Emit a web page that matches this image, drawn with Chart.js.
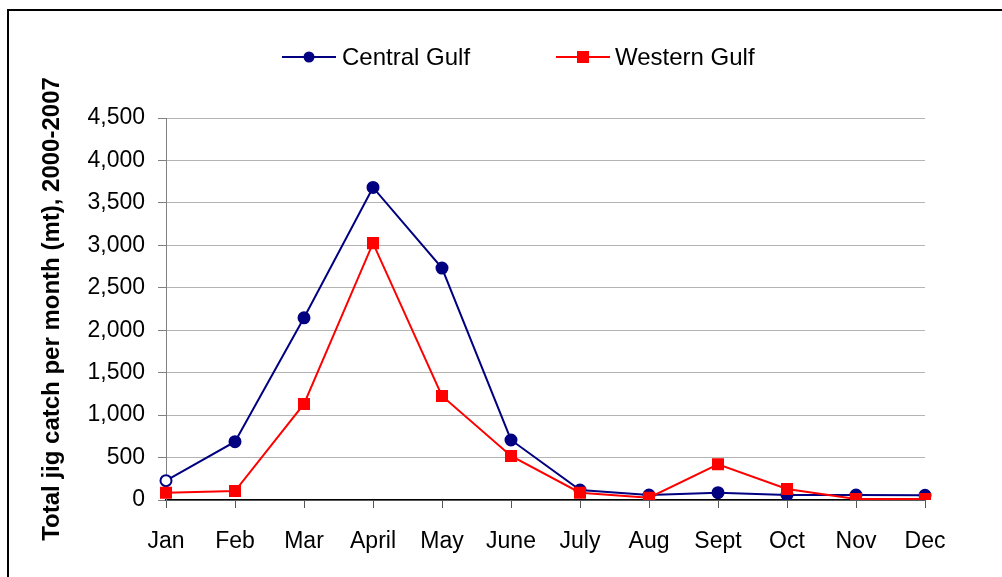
<!DOCTYPE html>
<html>
<head>
<meta charset="utf-8">
<title>Total jig catch per month</title>
<script src="https://cdn.jsdelivr.net/npm/chart.js"></script>
<style>
  body { margin: 0; background: #fff; overflow: hidden; }
  #wrap { position: relative; width: 1002px; height: 577px; }
  #frame { position: absolute; left: 7px; top: 9px; width: 1100px; height: 700px;
           border: 2px solid #000; pointer-events: none; }
</style>
</head>
<body>
<div id="wrap">
  <canvas id="js--chart" width="1002" height="577"></canvas>
  <div id="frame"></div>
</div>
<script>
// data (mt)
const months = ["Jan", "Feb", "Mar", "April", "May", "June", "July", "Aug", "Sept", "Oct", "Nov", "Dec"];
const centralGulf = [228, 687, 2146, 3682, 2732, 707, 118, 59, 86, 59, 59, 55];
const westernGulf = [86, 106, 1132, 3026, 1226, 519, 86, 27, 421, 130, 12, 12];
const yMax = 4500;
const yStep = 500;
const yTitle = "Total jig catch per month (mt), 2000-2007";

const FONT = "'Liberation Sans', Arial, sans-serif";
const NAVY = "#000080";
const RED = "#ff0000";

// legend is drawn by hand: line + marker + text, like the Excel one
const legendPos = [
    {x1: 282, x2: 336, tx: 342},
    {x1: 556, x2: 610, tx: 615}
];
const legendY = 57;

const lineLegend = {
    id: "lineLegend",
    afterDraw(chart) {
        const ctx = chart.ctx;
        chart.data.datasets.forEach(function (ds, i) {
            const p = legendPos[i];
            ctx.save();
            ctx.strokeStyle = ds.borderColor;
            ctx.lineWidth = 2;
            ctx.beginPath();
            ctx.moveTo(p.x1, legendY);
            ctx.lineTo(p.x2, legendY);
            ctx.stroke();
            const cx = (p.x1 + p.x2) / 2;
            ctx.fillStyle = ds.borderColor;
            if (ds.pointStyle === "rect") {
                ctx.fillRect(cx - 6, legendY - 6, 12, 12);
            } else {
                ctx.beginPath();
                ctx.arc(cx, legendY, 5.5, 0, Math.PI * 2);
                ctx.fill();
            }
            ctx.fillStyle = "#000";
            ctx.font = "24px " + FONT;
            ctx.textBaseline = "middle";
            ctx.fillText(ds.label, p.tx, legendY + 1);
            ctx.restore();
        });
    }
};

const data = {
    labels: months,
    datasets: [
        {
            label: "Central Gulf",
            data: centralGulf,
            borderColor: NAVY,
            backgroundColor: NAVY,
            borderWidth: 2,
            pointStyle: "circle",
            pointRadius: 5.5,
            pointBorderWidth: 2,
            pointBackgroundColor: centralGulf.map((v, i) => i === 0 ? "#fff" : NAVY),
            pointBorderColor: NAVY,
            tension: 0,
            order: 1
        },
        {
            label: "Western Gulf",
            data: westernGulf,
            borderColor: RED,
            backgroundColor: RED,
            borderWidth: 2,
            pointStyle: "rect",
            pointRadius: 8.5,
            pointBorderWidth: 0,
            pointBackgroundColor: RED,
            tension: 0,
            order: 0
        }
    ]
};

const config = {
    type: "line",
    data: data,
    options: {
        responsive: false,
        animation: false,
        layout: { padding: { left: 38, right: 77, top: 118, bottom: 0 } },
        plugins: {
            legend: { display: false },
            tooltip: { enabled: false }
        },
        scales: {
            x: {
                offset: false,
                grid: { drawOnChartArea: false, drawTicks: true, tickLength: 8, tickColor: "#555" },
                border: { color: "#000", width: 1.5 },
                ticks: { font: { family: FONT, size: 23 }, color: "#000", padding: 20, maxRotation: 0, autoSkip: false },
                afterFit: function (s) { s.height = 77; }
            },
            y: {
                min: 0,
                max: yMax,
                grid: { color: "#b4b4b4", tickLength: 8, tickColor: "#808080" },
                border: { color: "#808080" },
                ticks: {
                    stepSize: yStep,
                    font: { family: FONT, size: 23 },
                    color: "#000",
                    padding: 13,
                    callback: function (v) { return v.toLocaleString("en-US"); }
                },
                title: {
                    display: true,
                    text: yTitle,
                    font: { family: FONT, size: 24, weight: "bold" },
                    color: "#000",
                    padding: { top: 0, bottom: 0 }
                },
                afterFit: function (s) { s.width = 128; }
            }
        }
    },
    plugins: [lineLegend]
};

new Chart(document.getElementById("js--chart"), config);
</script>
</body>
</html>
